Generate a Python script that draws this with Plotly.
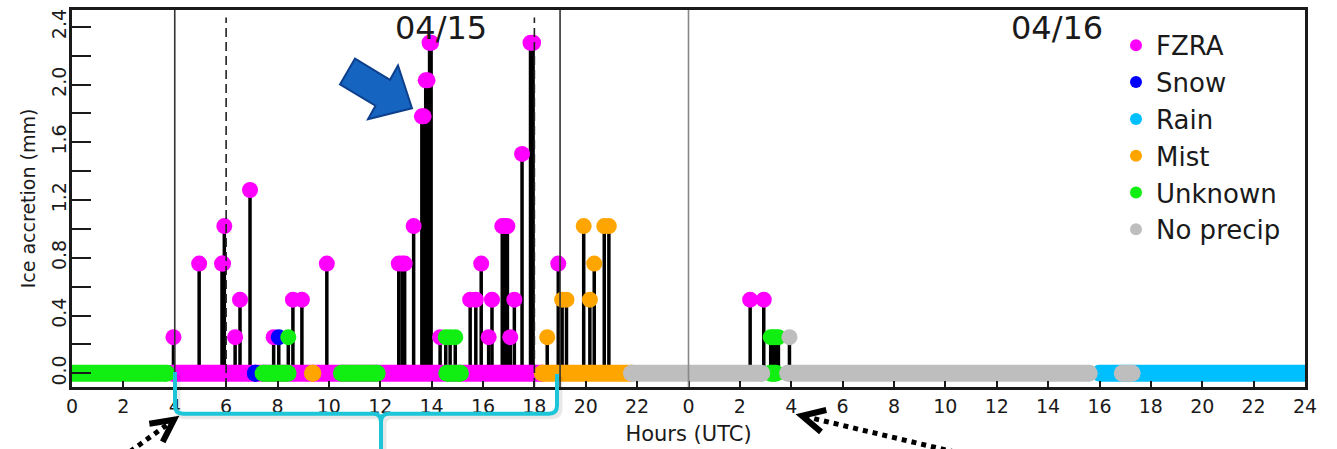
import math
import plotly.graph_objects as go

# ---------------- data ----------------
categories = ["FZRA", "Snow", "Rain", "Mist", "Unknown", "No precip"]
cat_colors = ["#FF00FF", "#0000FF", "#00BFFF", "#FFA500", "#11EE11", "#BEBEBE"]

# non-zero ice accretion reports: hours since 04/15 00 UTC, mm, weather type
obs_hours = [3.95, 4.95, 5.84, 5.88, 5.93, 6.35, 6.54, 6.93,
             7.85, 8.05, 8.42, 8.60, 8.95, 9.92,
             12.72, 12.85, 12.95, 13.30, 13.62, 13.69, 13.77, 13.84, 13.92, 13.98,
             14.33, 14.55, 14.72, 14.92,
             15.50, 15.72, 15.93, 16.22, 16.35, 16.75, 16.85, 16.95, 17.06, 17.22,
             17.52, 17.85, 17.95,
             18.50, 18.93, 19.08, 19.25, 19.92, 20.16, 20.33, 20.72, 20.90,
             26.40, 26.93, 27.20, 27.30, 27.40, 27.50, 27.93]
obs_values = [0.25, 0.76, 0.76, 0.76, 1.02, 0.25, 0.51, 1.27,
              0.25, 0.25, 0.25, 0.51, 0.51, 0.76,
              0.76, 0.76, 0.76, 1.02, 1.78, 1.78, 2.03, 2.03, 2.29, 2.29,
              0.25, 0.25, 0.25, 0.25,
              0.51, 0.51, 0.76, 0.25, 0.51, 1.02, 1.02, 1.02, 0.25, 0.51,
              1.52, 2.29, 2.29,
              0.25, 0.76, 0.51, 0.51, 1.02, 0.51, 0.76, 1.02, 1.02,
              0.51, 0.51, 0.25, 0.25, 0.25, 0.25, 0.25]
obs_cats = ["FZRA", "FZRA", "FZRA", "FZRA", "FZRA", "FZRA", "FZRA", "FZRA",
            "FZRA", "Snow", "Unknown", "FZRA", "FZRA", "FZRA",
            "FZRA", "FZRA", "FZRA", "FZRA", "FZRA", "FZRA", "FZRA", "FZRA", "FZRA", "FZRA",
            "FZRA", "Unknown", "Unknown", "Unknown",
            "FZRA", "FZRA", "FZRA", "FZRA", "FZRA", "FZRA", "FZRA", "FZRA", "FZRA", "FZRA",
            "FZRA", "FZRA", "FZRA",
            "Mist", "FZRA", "Mist", "Mist", "Mist", "Mist", "Mist", "Mist", "Mist",
            "FZRA", "FZRA", "Unknown", "Unknown", "Unknown", "Unknown", "No precip"]

# runs of zero-accretion reports: start hour, end hour, weather type
zero_start = [3.90, 7.14, 40.00, 9.37, 18.31, -0.50, 7.44, 10.49, 14.59, 27.20, 21.78, 27.86, 40.89]
zero_end   = [18.31, 7.14, 48.50, 9.37, 21.80, 3.69, 8.41, 11.88, 15.12, 27.40, 26.85, 39.60, 41.27]
zero_cats  = ["FZRA", "Snow", "Rain", "Mist", "Mist", "Unknown", "Unknown", "Unknown",
              "Unknown", "Unknown", "No precip", "No precip", "No precip"]

x_tick_hours = list(range(0, 49, 2))
x_tick_labels = ["0", "2", "4", "6", "8", "10", "12", "14", "16", "18", "20", "22",
                 "0", "2", "4", "6", "8", "10", "12", "14", "16", "18", "20", "22", "24"]
y_tick_vals = [0.0, 0.2, 0.4, 0.6, 0.8, 1.0, 1.2, 1.4, 1.6, 1.8, 2.0, 2.2, 2.4]
y_tick_labels = ["0.0", "", "0.4", "", "0.8", "", "1.2", "", "1.6", "", "2.0", "", "2.4"]

day_labels = ["04/15", "04/16"]
day_label_hours = [14.37, 38.33]
solid_lines = [4, 19]
dashed_lines = [6, 18]
day_boundary = [24]

# ---------------- figure ----------------
W, H = 1337, 449
ML, MR, MT, MB = 72, 32, 7, 62
PW, PH = W - ML - MR, H - MT - MB
FONT = "DejaVu Sans, Liberation Sans, Arial, sans-serif"
TXT = "#1a1a1a"
MS = 16


def px2paper(px, py):
    return (px - ML) / PW, (H - MB - py) / PH


def path_from_px(points, close=False):
    s = ""
    for i, (px, py) in enumerate(points):
        xp, yp = px2paper(px, py)
        s += ("M" if i == 0 else "L") + f"{xp:.5f},{yp:.5f} "
    if close:
        s += "Z"
    return s


fig = go.Figure()
color_of = dict(zip(categories, cat_colors))

# legend entries
for c in categories:
    fig.add_trace(go.Scatter(x=[None], y=[None], mode="markers", name=c,
                             marker=dict(color=color_of[c], size=12), hoverinfo="skip"))

# stems
sx, sy = [], []
for h, v in zip(obs_hours, obs_values):
    sx += [h, h, None]
    sy += [0, v, None]
fig.add_trace(go.Scatter(x=sx, y=sy, mode="lines", line=dict(color="black", width=3.5),
                         showlegend=False, hoverinfo="skip"))

# zero-accretion band, drawn category by category
for c in categories:
    xs, ys = [], []
    for s, e, k in zip(zero_start, zero_end, zero_cats):
        if k == c:
            xs += [s, e, None]
            ys += [0, 0, None]
    if xs:
        fig.add_trace(go.Scatter(x=xs, y=ys, mode="lines+markers",
                                 line=dict(color=color_of[c], width=MS + 1),
                                 marker=dict(color=color_of[c], size=MS + 1),
                                 showlegend=False, hoverinfo="skip"))

# non-zero reports
for c in categories:
    xs = [h for h, k in zip(obs_hours, obs_cats) if k == c]
    ys = [v for v, k in zip(obs_values, obs_cats) if k == c]
    if xs:
        fig.add_trace(go.Scatter(x=xs, y=ys, mode="markers",
                                 marker=dict(color=color_of[c], size=MS),
                                 showlegend=False))

shapes = []
for xv in solid_lines:
    shapes.append(dict(type="line", xref="x", yref="paper", x0=xv, x1=xv, y0=0, y1=1,
                       line=dict(color="#333333", width=1.6), layer="above"))
for xv in dashed_lines:
    shapes.append(dict(type="line", xref="x", yref="paper", x0=xv, x1=xv, y0=0, y1=0.98,
                       line=dict(color="#222222", width=1.6, dash="9px,5px"), layer="above"))
for xv in day_boundary:
    shapes.append(dict(type="line", xref="x", yref="paper", x0=xv, x1=xv, y0=0, y1=1,
                       line=dict(color="#888888", width=1.6), layer="above"))

# blue block arrow (decoration)
arrow_px = [(355, 56), (390, 77.4), (398, 63), (412, 106), (368, 117), (375.5, 103.5), (340, 82)]
shapes.append(dict(type="path", xref="paper", yref="paper", path=path_from_px(arrow_px, True),
                   fillcolor="#1565C0", line=dict(color="#0D3F8C", width=2), layer="above"))


# cyan brace below the axis (decoration)
def brace_path(off):
    def P(px, py):
        xp, yp = px2paper(px + off, py + off)
        return f"{xp:.5f},{yp:.5f}"
    r = 8
    yb = 414
    xl, xc, xr = 175, 381, 557
    return (f"M{P(xl, 372)} L{P(xl, yb - r)} Q{P(xl, yb)} {P(xl + r, yb)} "
            f"L{P(xc - r, yb)} Q{P(xc, yb)} {P(xc, yb + r)} L{P(xc, 470)} "
            f"M{P(xc, yb + r)} Q{P(xc, yb)} {P(xc + r, yb)} "
            f"L{P(xr - r, yb)} Q{P(xr, yb)} {P(xr, yb - r)} L{P(xr, 374)}")


shapes.append(dict(type="path", xref="paper", yref="paper", path=brace_path(2.5),
                   line=dict(color="rgba(0,0,0,0.09)", width=6), layer="above"))
shapes.append(dict(type="path", xref="paper", yref="paper", path=brace_path(0),
                   line=dict(color="#1CC5D8", width=4), layer="above"))


# dotted arrows (decoration)
def dotted_arrow(tail, tip, arm=25, ang=27):
    out = []
    x0, y0 = px2paper(*tail)
    dx, dy = tail[0] - tip[0], tail[1] - tip[1]
    n = math.hypot(dx, dy)
    ux, uy = dx / n, dy / n
    sxp, syp = px2paper(tip[0] + ux * 6, tip[1] + uy * 6)
    out.append(dict(type="line", xref="paper", yref="paper", x0=x0, y0=y0, x1=sxp, y1=syp,
                    line=dict(color="black", width=5, dash="dot"), layer="above"))
    pts = []
    for a in (ang, -ang):
        t = math.radians(a)
        rx = ux * math.cos(t) - uy * math.sin(t)
        ry = ux * math.sin(t) + uy * math.cos(t)
        pts.append((tip[0] + rx * arm, tip[1] + ry * arm))
    out.append(dict(type="path", xref="paper", yref="paper",
                    path=path_from_px([pts[0], tip, pts[1]]),
                    line=dict(color="black", width=6), layer="above"))
    return out


shapes += dotted_arrow((122, 458), (174, 420))
shapes += dotted_arrow((965, 455), (802, 416))

annotations = []
for lab, hx in zip(day_labels, day_label_hours):
    annotations.append(dict(x=hx, y=px2paper(0, 25)[1], xref="x", yref="paper", text=lab,
                            showarrow=False, font=dict(size=32, color=TXT, family=FONT),
                            xanchor="center", yanchor="middle"))

fig.update_layout(
    width=W, height=H, autosize=False,
    margin=dict(l=ML, r=MR, t=MT, b=MB, pad=0),
    paper_bgcolor="white", plot_bgcolor="white",
    font=dict(family=FONT, color=TXT),
    shapes=shapes, annotations=annotations,
    showlegend=True,
    legend=dict(x=px2paper(1116, 0)[0], y=px2paper(0, 19)[1], xanchor="left", yanchor="top",
                bgcolor="rgba(0,0,0,0)", borderwidth=0,
                font=dict(size=26, color=TXT, family=FONT)),
)
fig.update_xaxes(range=[0, 48], tickvals=x_tick_hours, ticktext=x_tick_labels,
                 ticks="inside", ticklen=6, tickwidth=1.5, tickcolor=TXT,
                 showline=True, linecolor=TXT, linewidth=2.5, mirror=True,
                 showgrid=False, zeroline=False,
                 tickfont=dict(size=19, family=FONT, color=TXT),
                 title=dict(text="Hours (UTC)", font=dict(size=21, family=FONT, color=TXT),
                            standoff=11))
fig.update_yaxes(range=[-0.095, 2.517], tickvals=y_tick_vals, ticktext=y_tick_labels,
                 ticks="inside", ticklen=19, tickwidth=1.5, tickcolor=TXT,
                 tickangle=-90, ticklabelstandoff=-4,
                 showline=True, linecolor=TXT, linewidth=2.5, mirror=True,
                 showgrid=False, zeroline=False,
                 tickfont=dict(size=19, family=FONT, color=TXT),
                 title=dict(text="Ice accretion (mm)", font=dict(size=19, family=FONT, color=TXT),
                            standoff=8))

fig.write_html("out.html")
